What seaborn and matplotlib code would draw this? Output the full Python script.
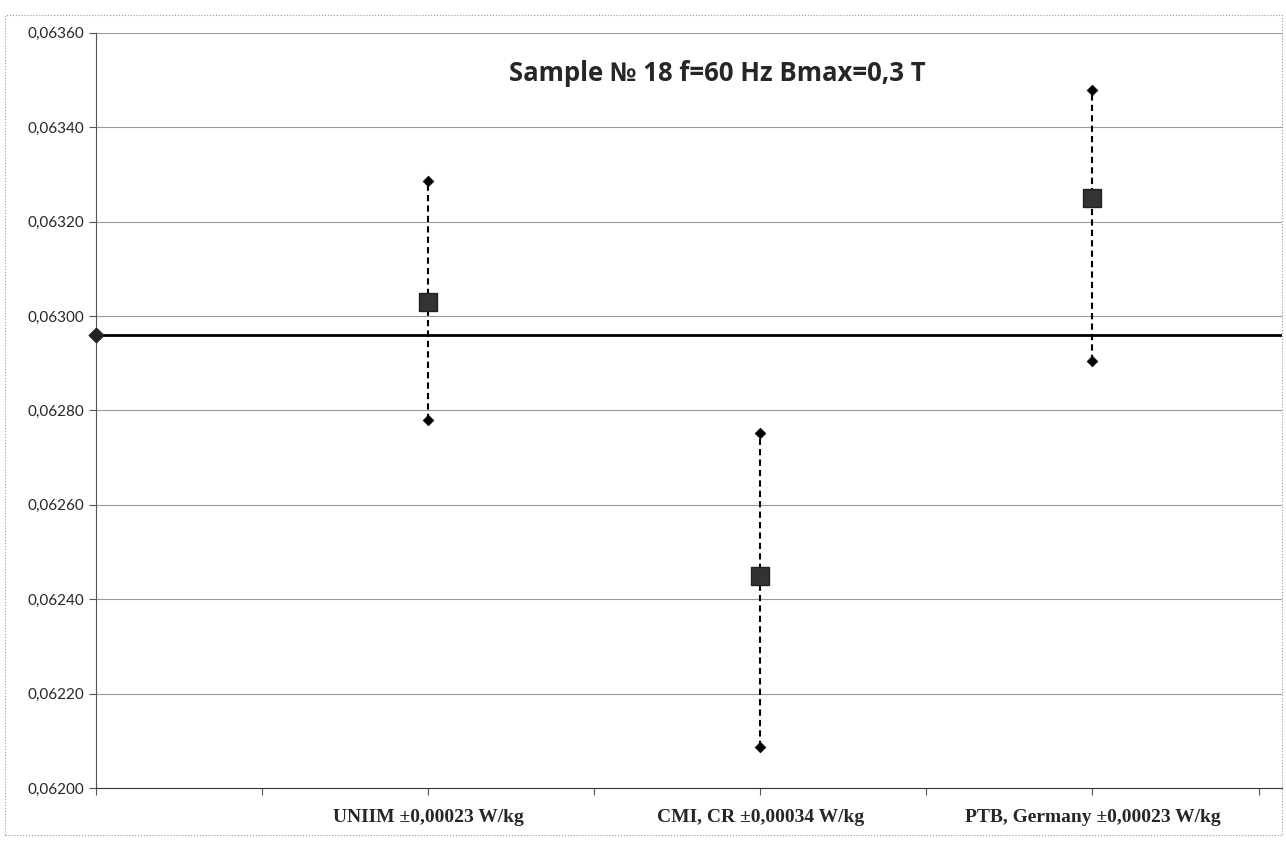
# comparison chart: sample 18, f=60 Hz, Bmax=0.3 T
import numpy as np
import pandas as pd
import matplotlib
matplotlib.use("Agg")
import matplotlib.pyplot as plt
from matplotlib.patches import Rectangle
import seaborn as sns

# data
labs = ["UNIIM ±0,00023 W/kg", "CMI, CR ±0,00034 W/kg", "PTB, Germany ±0,00023 W/kg"]
pos = [1, 2, 3]
vals = [0.06303, 0.06245, 0.06325]
upper = [0.063285, 0.062753, 0.063479]
lower = [0.06278, 0.062087, 0.062904]
ref_value = 0.06296

sns.set_style("white")
plt.rcParams['font.family'] = ['Lato', 'DejaVu Sans']

fig = plt.figure(figsize=(12.86, 8.41), dpi=100)
ax = fig.add_axes([0.0747, 0.063, 0.922, 0.898])

df = pd.DataFrame({"x": pos, "y": vals, "hi": upper, "lo": lower})

# reference value line
ax.axhline(ref_value, color="black", lw=2, zorder=3)
sns.scatterplot(x=[0], y=[ref_value], marker="D", s=60, color="#222222",
                edgecolor="#222222", ax=ax, zorder=5, clip_on=False)

# uncertainty intervals
ax.vlines(df["x"], df["lo"], df["hi"], colors="black", linestyles=(0, (3, 2)), lw=1.5, zorder=4)
sns.scatterplot(data=df, x="x", y="hi", marker="D", s=30, color="black", edgecolor="black", ax=ax, zorder=5)
sns.scatterplot(data=df, x="x", y="lo", marker="D", s=30, color="black", edgecolor="black", ax=ax, zorder=5)
sns.scatterplot(data=df, x="x", y="y", marker="s", s=150, color="#333333", edgecolor="#222222", ax=ax, zorder=6)

ax.set_xlim(0, 3.57)
ax.set_ylim(0.062, 0.0636)
yt = np.arange(0.0620, 0.06361, 0.0002)
ax.set_yticks(yt)
ax.set_yticklabels([("%.5f" % v).replace(".", ",") for v in yt], fontsize=11)
xt = np.arange(0, 3.6, 0.5)
ax.set_xticks(xt)
ax.set_xticklabels(["" if t not in pos else labs[pos.index(t)] for t in xt],
                   fontsize=14, fontweight="bold", family=["Liberation Serif"])
ax.tick_params(axis="x", length=5, width=0.8, color="#555555", pad=10, direction="out", bottom=True)
ax.tick_params(axis="y", length=5, width=0.8, color="#555555", direction="out", left=True)
ax.grid(axis="y", color="#999999", lw=0.8)
ax.set_xlabel("")
ax.set_ylabel("")
for s in ["top", "right"]:
    ax.spines[s].set_visible(False)
ax.spines["left"].set_color("#555555")
ax.spines["bottom"].set_color("#333333")

ax.text(1.87, 0.946, "Sample № 18 f=60 Hz Bmax=0,3 T", transform=ax.get_xaxis_transform(),
        ha="center", va="center", fontsize=18.5, fontweight="bold",
        family=["Open Sans", "DejaVu Sans"])

# dotted chart border
fig.patches.append(Rectangle((0.004, 0.007), 0.993, 0.975, transform=fig.transFigure,
                             fill=False, ec="#999999", lw=0.8, ls=":"))

plt.savefig("out.png", dpi=100)
